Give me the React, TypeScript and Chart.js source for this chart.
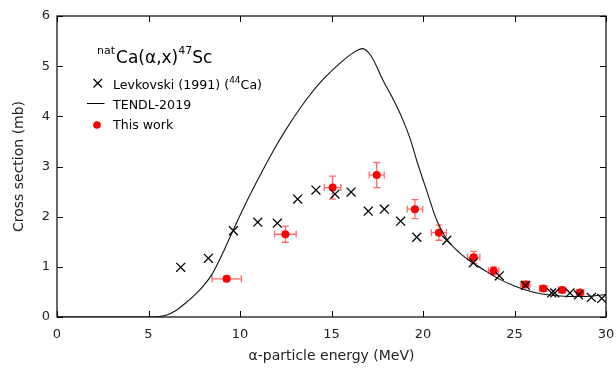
import React, { useEffect, useRef } from "react";
import { Chart, registerables } from "chart.js";

Chart.register(...registerables);

// ---- data ----
const levkX = [6.76, 8.27, 9.64, 10.97, 12.04, 13.15, 14.15, 15.19, 16.07, 17.01, 17.89, 18.78, 19.66, 21.3, 22.75, 24.17, 25.6, 27.03, 27.2, 28.03, 28.5, 29.2, 29.77];
const levkY = [0.99, 1.17, 1.72, 1.89, 1.87, 2.35, 2.53, 2.45, 2.49, 2.11, 2.15, 1.91, 1.59, 1.53, 1.08, 0.82, 0.63, 0.48, 0.48, 0.48, 0.44, 0.39, 0.37];

const tendlX = [0, 5, 5.5, 6, 6.5, 7, 7.5, 8, 8.5, 9, 9.6, 10.5, 11.8, 12.5, 13.6, 14.5, 15.5, 16, 16.5, 16.7, 17.0, 17.3, 17.8, 18.4, 18.9, 19.3, 19.7, 20.2, 20.75, 21.3, 22, 22.75, 23.5, 24.2, 25, 25.7, 26.5, 27.5, 28.5, 29.3, 30];
const tendlY = [0, 0, 0.005, 0.04, 0.13, 0.27, 0.43, 0.62, 0.87, 1.23, 1.71, 2.4, 3.3, 3.73, 4.32, 4.72, 5.07, 5.22, 5.33, 5.35, 5.28, 5.12, 4.73, 4.32, 3.93, 3.55, 3.07, 2.52, 1.93, 1.55, 1.28, 1.07, 0.9, 0.75, 0.62, 0.53, 0.46, 0.42, 0.41, 0.42, 0.45];

const workX = [9.27, 12.48, 15.06, 17.47, 19.56, 20.87, 22.77, 23.86, 25.59, 26.57, 27.6, 28.58];
const workY = [0.76, 1.65, 2.58, 2.83, 2.15, 1.68, 1.19, 0.92, 0.65, 0.57, 0.54, 0.49];
const workXErr = [0.8, 0.59, 0.45, 0.41, 0.42, 0.41, 0.34, 0.28, 0.25, 0.2, 0.2, 0.2];
const workYErr = [0.05, 0.16, 0.23, 0.25, 0.19, 0.15, 0.12, 0.08, 0.06, 0.05, 0.05, 0.04];

const xTicks = [0, 5, 10, 15, 20, 25, 30];
const yTicks = [0, 1, 2, 3, 4, 5, 6];

const FONT = "DejaVu Sans";

const errorBarPlugin = {
  id: "errorBars",
  beforeDatasetDraw(chart: any, args: any) {
    if (args.index !== 2) return;
    const xs = chart.scales.x;
    const ys = chart.scales.y;
    const ctx = chart.ctx;
    ctx.save();
    ctx.strokeStyle = "rgba(255,70,70,0.8)";
    ctx.lineWidth = 1.3;
    const cap = 3.5;
    for (let i = 0; i < workX.length; i++) {
      const cx = xs.getPixelForValue(workX[i]);
      const cy = ys.getPixelForValue(workY[i]);
      const x1 = xs.getPixelForValue(workX[i] - workXErr[i]);
      const x2 = xs.getPixelForValue(workX[i] + workXErr[i]);
      const y1 = ys.getPixelForValue(workY[i] - workYErr[i]);
      const y2 = ys.getPixelForValue(workY[i] + workYErr[i]);
      ctx.beginPath();
      ctx.moveTo(x1, cy); ctx.lineTo(x2, cy);
      ctx.moveTo(x1, cy - cap); ctx.lineTo(x1, cy + cap);
      ctx.moveTo(x2, cy - cap); ctx.lineTo(x2, cy + cap);
      ctx.moveTo(cx, y1); ctx.lineTo(cx, y2);
      ctx.moveTo(cx - cap, y1); ctx.lineTo(cx + cap, y1);
      ctx.moveTo(cx - cap, y2); ctx.lineTo(cx + cap, y2);
      ctx.stroke();
    }
    ctx.restore();
  },
};

const framePlugin = {
  id: "frame",
  afterDraw(chart: any) {
    const { ctx, chartArea: a } = chart;
    const xs = chart.scales.x;
    const ys = chart.scales.y;
    ctx.save();
    ctx.strokeStyle = "#000";
    ctx.lineWidth = 1.2;
    ctx.strokeRect(a.left, a.top, a.right - a.left, a.bottom - a.top);
    ctx.lineWidth = 1;
    const t = 6;
    ctx.beginPath();
    for (const v of xTicks) {
      const px = Math.round(xs.getPixelForValue(v)) + 0.5;
      ctx.moveTo(px, a.bottom); ctx.lineTo(px, a.bottom - t);
      ctx.moveTo(px, a.top); ctx.lineTo(px, a.top + t);
    }
    for (const v of yTicks) {
      const py = Math.round(ys.getPixelForValue(v)) + 0.5;
      ctx.moveTo(a.left, py); ctx.lineTo(a.left + t, py);
      ctx.moveTo(a.right, py); ctx.lineTo(a.right - t, py);
    }
    ctx.stroke();

    // title
    ctx.fillStyle = "#000";
    ctx.textBaseline = "alphabetic";
    ctx.textAlign = "left";
    let x = 97;
    const by = 63;
    ctx.font = `11px ${FONT}`;
    ctx.fillText("nat", x, by - 9);
    x += ctx.measureText("nat").width + 1;
    ctx.font = `17px ${FONT}`;
    ctx.fillText("Ca(α,x)", x, by);
    x += ctx.measureText("Ca(α,x)").width;
    ctx.font = `11px ${FONT}`;
    ctx.fillText("47", x, by - 9);
    x += ctx.measureText("47").width;
    ctx.font = `17px ${FONT}`;
    ctx.fillText("Sc", x, by);

    // legend
    const tx = 113;
    ctx.strokeStyle = "#000";
    ctx.lineWidth = 1.3;
    ctx.beginPath();
    ctx.moveTo(93.5, 79); ctx.lineTo(102, 87.5);
    ctx.moveTo(102, 79); ctx.lineTo(93.5, 87.5);
    ctx.stroke();
    ctx.font = `12.6px ${FONT}`;
    let lx = tx;
    ctx.fillText("Levkovski (1991) (", lx, 89);
    lx += ctx.measureText("Levkovski (1991) (").width;
    ctx.font = `9px ${FONT}`;
    ctx.fillText("44", lx, 83);
    lx += ctx.measureText("44").width;
    ctx.font = `12.6px ${FONT}`;
    ctx.fillText("Ca)", lx, 89);
    ctx.lineWidth = 1;
    ctx.beginPath();
    ctx.moveTo(87, 103.5); ctx.lineTo(104.5, 103.5);
    ctx.stroke();
    ctx.fillText("TENDL-2019", tx, 109);
    ctx.fillStyle = "#ff0000";
    ctx.beginPath();
    ctx.arc(97, 125, 3.8, 0, Math.PI * 2);
    ctx.fill();
    ctx.fillStyle = "#000";
    ctx.fillText("This work", tx, 129);
    ctx.restore();
  },
};

export default function App() {
  const ref = useRef<HTMLCanvasElement | null>(null);
  useEffect(() => {
    if (!ref.current) return;
    Chart.defaults.font.family = FONT;
    const chart = new Chart(ref.current, {
      type: "scatter",
      data: {
        datasets: [
          {
            type: "line",
            label: "TENDL-2019",
            data: tendlX.map((x, i) => ({ x, y: tendlY[i] })),
            borderColor: "#111",
            borderWidth: 1.1,
            pointRadius: 0,
            fill: false,
            cubicInterpolationMode: "monotone",
          } as any,
          {
            label: "Levkovski (1991) (44Ca)",
            data: levkX.map((x, i) => ({ x, y: levkY[i] })),
            pointStyle: "crossRot",
            pointRadius: 6.3,
            borderColor: "#000",
            borderWidth: 1.3,
            backgroundColor: "#000",
          },
          {
            label: "This work",
            data: workX.map((x, i) => ({ x, y: workY[i] })),
            pointStyle: "circle",
            pointRadius: 4,
            borderWidth: 0,
            backgroundColor: "#ff0000",
            borderColor: "#ff0000",
          },
        ],
      },
      options: {
        animation: false,
        responsive: true,
        maintainAspectRatio: false,
        layout: { padding: { left: 0, right: 10, top: 16, bottom: 0 } },
        plugins: { legend: { display: false }, tooltip: { enabled: false } },
        scales: {
          x: {
            type: "linear",
            min: 0,
            max: 30,
            afterFit: (s: any) => { s.height = 52; s.paddingRight = 0; s.paddingLeft = 0; },
            afterBuildTicks: (s: any) => { s.ticks = xTicks.map((v) => ({ value: v })); },
            grid: { display: false, drawTicks: false },
            border: { display: false },
            ticks: { padding: 10, color: "#222", font: { size: 13, family: FONT } },
            title: {
              display: true,
              text: "α-particle energy (MeV)",
              color: "#222",
              font: { size: 14, family: FONT },
              padding: { top: 0, bottom: 4 },
            },
          },
          y: {
            type: "linear",
            min: 0,
            max: 6,
            afterFit: (s: any) => { s.width = 57; s.paddingTop = 0; s.paddingBottom = 0; },
            afterBuildTicks: (s: any) => { s.ticks = yTicks.map((v) => ({ value: v })); },
            grid: { display: false, drawTicks: false },
            border: { display: false },
            ticks: { padding: 7, color: "#222", font: { size: 13, family: FONT } },
            title: {
              display: true,
              text: "Cross section (mb)",
              color: "#222",
              font: { size: 14, family: FONT },
              padding: { top: 11, bottom: 0 },
            },
          },
        },
      },
      plugins: [errorBarPlugin, framePlugin],
    } as any);
    return () => chart.destroy();
  }, []);
  return (
    <div style={{ position: "fixed", left: 0, top: 0, width: 616, height: 369, background: "#fff" }}>
      <canvas ref={ref} />
    </div>
  );
}
